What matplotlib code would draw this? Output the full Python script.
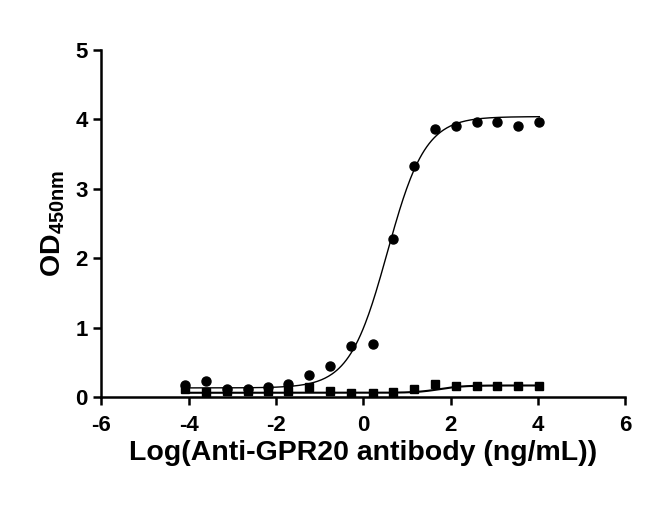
import numpy as np
import matplotlib
matplotlib.use("Agg")
import matplotlib.pyplot as plt

# log10 concentration (3-fold dilution series from 10000 ng/mL)
log_conc = [4.03, 3.55, 3.07, 2.60, 2.12, 1.64, 1.16, 0.68, 0.21,
            -0.29, -0.76, -1.24, -1.72, -2.19, -2.65, -3.12, -3.60, -4.08]

od_gpr20 = [3.96, 3.90, 3.96, 3.96, 3.91, 3.86, 3.33, 2.28, 0.76,
            0.73, 0.45, 0.31, 0.18, 0.14, 0.11, 0.11, 0.23, 0.17]
od_control = [0.16, 0.16, 0.16, 0.16, 0.16, 0.18, 0.12, 0.07, 0.05,
              0.05, 0.08, 0.15, 0.09, 0.08, 0.08, 0.08, 0.07, 0.12]

# 4PL fit parameters (bottom, top, logEC50, hill)
fit_gpr20 = (0.13, 4.04, 0.55, 1.0)
fit_control = (0.06, 0.165, 1.75, 1.6)

x_ticks = [-6, -4, -2, 0, 2, 4, 6]
y_ticks = [0, 1, 2, 3, 4, 5]


def four_pl(x, bottom, top, logec50, hill):
    return bottom + (top - bottom) / (1 + 10 ** ((logec50 - x) * hill))


plt.rcParams["font.family"] = ["Liberation Sans", "DejaVu Sans"]
plt.rcParams["font.weight"] = "bold"
plt.rcParams["axes.unicode_minus"] = False
plt.rcParams["mathtext.fontset"] = "custom"
plt.rcParams["mathtext.rm"] = "Liberation Sans:bold"
plt.rcParams["mathtext.bf"] = "Liberation Sans:bold"

fig = plt.figure(figsize=(6.5, 5.05), dpi=100)
ax = fig.add_axes([0.156, 0.214, 0.806, 0.687])

xs = np.linspace(min(log_conc), max(log_conc), 300)
ax.plot(xs, four_pl(xs, *fit_gpr20), color="black", lw=1.0, zorder=2)
ax.plot(xs, four_pl(xs, *fit_control), color="black", lw=1.5, zorder=2)

ax.plot(log_conc, od_control, "s", color="black", ms=5.8, zorder=3)
ax.plot(log_conc, od_gpr20, "o", color="black", ms=6.5, zorder=3)

ax.set_xlim(-6, 6)
ax.set_ylim(0, 5)
ax.set_xticks(x_ticks)
ax.set_yticks(y_ticks)
ax.spines["top"].set_visible(False)
ax.spines["right"].set_visible(False)
for s in ("left", "bottom"):
    ax.spines[s].set_linewidth(1.8)
ax.tick_params(width=1.8, length=6, labelsize=16)
ax.tick_params(axis="x", pad=7)
ax.tick_params(axis="y", pad=4)
for lbl in ax.get_xticklabels() + ax.get_yticklabels():
    lbl.set_fontweight("bold")

ax.set_xlabel("Log(Anti-GPR20 antibody (ng/mL))", fontsize=20.5,
              fontweight="bold", labelpad=3)
ax.set_ylabel(r"OD$_{\mathrm{450nm}}$", fontsize=20.5, fontweight="bold",
              labelpad=6)

fig.savefig("out.png", dpi=100)
